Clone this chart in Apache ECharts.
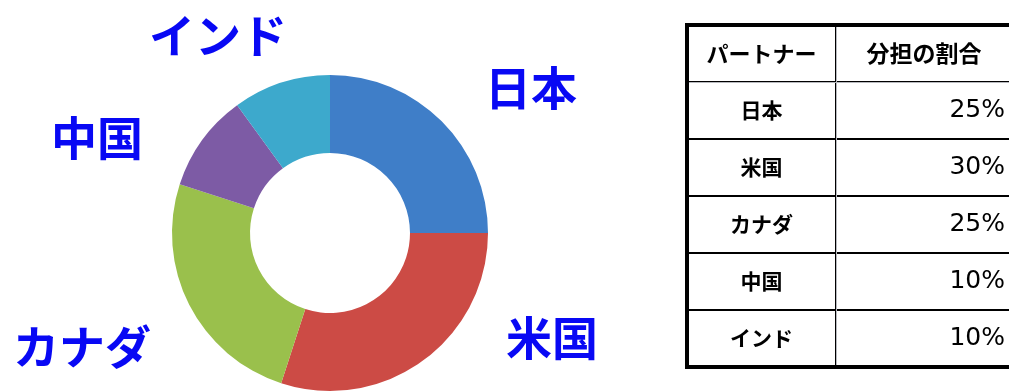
<!DOCTYPE html>
<html>
<head>
<meta charset="utf-8">
<script src="https://cdn.jsdelivr.net/npm/echarts@6/dist/echarts.min.js"></script>
<style>
  html, body { margin: 0; padding: 0; background: #fff; }
  #chart { width: 1009px; height: 392px; }
</style>
</head>
<body>
<div id="chart"></div>
<script>
// data
const partners = ['日本', '米国', 'カナダ', '中国', 'インド']
const shares = [25, 30, 25, 10, 10]
const nameHeader = 'パートナー'
const shareHeader = '分担の割合'

const sliceColors = ['#3f7ec8', '#cc4b45', '#9ac04c', '#7d5ba5', '#3da9cc']
// where each big blue name sits (label centre)
const labelPos = [[531, 88], [552, 338], [82, 347], [97, 138], [218, 36]]

const cjk = '"Noto Sans CJK JP", "Noto Sans", sans-serif'
const cellText = { color: '#000', fontSize: 21, fontWeight: 'bold', fontFamily: cjk, padding: [0, 0, 6, 0] }
const cellBox = { color: '#fff', borderColor: '#000', borderWidth: 2 }

const myChart = echarts.init(document.getElementById('chart'))
myChart.setOption({
  animation: false,
  backgroundColor: '#fff',
  matrix: {
    left: 687,
    top: 25,
    width: 325,
    height: 342,
    backgroundStyle: { color: '#fff', borderColor: '#000', borderWidth: 4 },
    x: {
      data: [shareHeader],
      levelSize: 57,
      label: { ...cellText, fontSize: 23 },
      itemStyle: cellBox
    },
    y: {
      data: partners,
      levelSize: 149,
      label: cellText,
      itemStyle: cellBox
    },
    corner: {
      data: [{ coord: [-1, -1], value: nameHeader }],
      label: { ...cellText, fontSize: 22 },
      itemStyle: cellBox
    },
    body: {
      data: partners.map((p, i) => ({ coord: [shareHeader, p], value: shares[i] + '%' })),
      label: {
        color: '#000',
        fontSize: 25,
        fontFamily: '"DejaVu Sans", sans-serif',
        position: 'insideRight',
        distance: 7,
        padding: [0, 0, 6, 0]
      },
      itemStyle: cellBox
    }
  },
  series: [
    {
      type: 'pie',
      center: [330, 233],
      radius: [80, 158],
      startAngle: 90,
      clockwise: true,
      avoidLabelOverlap: false,
      silent: true,
      color: sliceColors,
      label: {
        show: true,
        position: 'outside',
        formatter: '{b}',
        color: '#0808f4',
        fontSize: 46,
        fontWeight: 'bold',
        fontFamily: cjk
      },
      labelLine: { show: false },
      labelLayout: p => ({
        x: labelPos[p.dataIndex][0],
        y: labelPos[p.dataIndex][1],
        align: 'center',
        verticalAlign: 'middle'
      }),
      data: partners.map((p, i) => ({ name: p, value: shares[i] }))
    }
  ]
})
</script>
</body>
</html>
